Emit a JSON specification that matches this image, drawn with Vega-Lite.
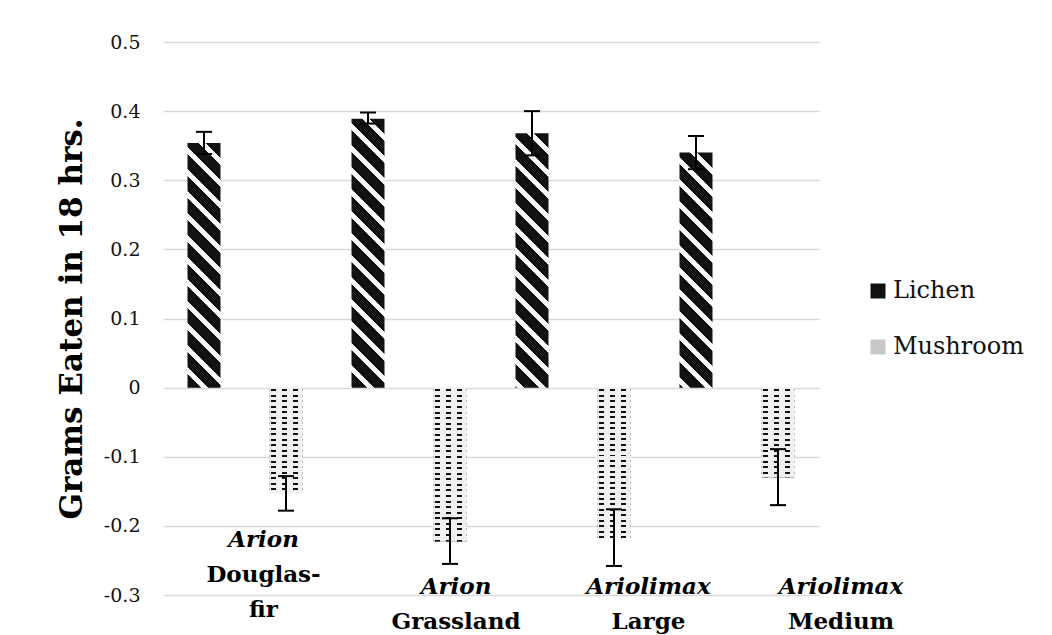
{
  "$schema": "https://vega.github.io/schema/vega-lite/v6.json",
  "autosize": {"type": "none"},
  "padding": {"left": 163, "top": 42, "right": 233, "bottom": 40},
  "width": 656,
  "height": 553,
  "background": "#ffffff",
  "config": {"view": {"stroke": null}, "font": "DejaVu Serif"},
  "data": {"values": [
    {"site": "Arion Douglas-fir", "food": "Lichen", "value": 0.354, "lo": 0.338, "hi": 0.370},
    {"site": "Arion Douglas-fir", "food": "Mushroom", "value": -0.153, "lo": -0.178, "hi": -0.128},
    {"site": "Arion Grassland", "food": "Lichen", "value": 0.389, "lo": 0.382, "hi": 0.398},
    {"site": "Arion Grassland", "food": "Mushroom", "value": -0.223, "lo": -0.255, "hi": -0.189},
    {"site": "Ariolimax Large", "food": "Lichen", "value": 0.368, "lo": 0.336, "hi": 0.400},
    {"site": "Ariolimax Large", "food": "Mushroom", "value": -0.218, "lo": -0.258, "hi": -0.176},
    {"site": "Ariolimax Medium", "food": "Lichen", "value": 0.340, "lo": 0.316, "hi": 0.364},
    {"site": "Ariolimax Medium", "food": "Mushroom", "value": -0.130, "lo": -0.170, "hi": -0.089}
  ]},
  "resolve": {"scale": {"x": "independent"}, "axis": {"x": "independent"}},
  "layer": [
    {
      "encoding": {
        "x": {"field": "site", "type": "nominal", "scale": {"domain": ["Arion Douglas-fir", "Arion Grassland", "Ariolimax Large", "Ariolimax Medium"], "paddingInner": 0, "paddingOuter": 0}, "axis": null},
        "xOffset": {"field": "food", "type": "nominal", "scale": {"domain": ["Lichen", "Mushroom"], "paddingInner": 0.5976, "paddingOuter": 0.2988}}
      },
      "layer": [
        {
          "mark": {"type": "bar"},
          "encoding": {
            "y": {"field": "value", "type": "quantitative", "title": "Grams Eaten in 18 hrs.",
              "scale": {"domain": [-0.3, 0.5], "nice": false, "zero": false},
              "axis": {"values": [-0.3, -0.2, -0.1, 0, 0.1, 0.2, 0.3, 0.4, 0.5], "labelExpr": "replace(format(datum.value, '.1~f'), '\u2212', '-')", "grid": true, "gridColor": "#d9d9d9", "gridWidth": 1.3, "domain": false, "ticks": false, "tickSize": 0, "labelPadding": 23, "labelFont": "DejaVu Serif", "labelFontSize": 19, "labelColor": "#111", "titleFont": "DejaVu Serif", "titleFontSize": 31, "titleFontWeight": "bold", "titleColor": "#000", "titlePadding": 15}},
            "fill": {
              "field": "food", "type": "nominal",
              "scale": {"domain": ["Lichen", "Mushroom"], "range": ["#111111", "#c8c8c8"]},
              "legend": {"title": null, "orient": "none", "legendX": 703, "legendY": 237, "padding": 0, "symbolType": "square", "symbolSize": 225, "symbolStrokeWidth": 0, "labelFont": "DejaVu Serif", "labelFontSize": 24, "labelColor": "#111", "labelOffset": 3, "rowPadding": 32},
              "condition": [
                {"test": "datum.food === 'Lichen' && datum.site === 'Arion Douglas-fir'", "value": {"gradient": "linear", "x1": 1, "y1": 0, "x2": 0.8333, "y2": 1.2362, "stops": [{"offset":0,"color":"#111"},{"offset":0.0486,"color":"#111"},{"offset":0.0486,"color":"#f7f7f7"},{"offset":0.0714,"color":"#f7f7f7"},{"offset":0.0714,"color":"#111"},{"offset":0.12,"color":"#111"},{"offset":0.12,"color":"#f7f7f7"},{"offset":0.1429,"color":"#f7f7f7"},{"offset":0.1429,"color":"#111"},{"offset":0.1914,"color":"#111"},{"offset":0.1914,"color":"#f7f7f7"},{"offset":0.2143,"color":"#f7f7f7"},{"offset":0.2143,"color":"#111"},{"offset":0.2629,"color":"#111"},{"offset":0.2629,"color":"#f7f7f7"},{"offset":0.2857,"color":"#f7f7f7"},{"offset":0.2857,"color":"#111"},{"offset":0.3343,"color":"#111"},{"offset":0.3343,"color":"#f7f7f7"},{"offset":0.3571,"color":"#f7f7f7"},{"offset":0.3571,"color":"#111"},{"offset":0.4057,"color":"#111"},{"offset":0.4057,"color":"#f7f7f7"},{"offset":0.4286,"color":"#f7f7f7"},{"offset":0.4286,"color":"#111"},{"offset":0.4771,"color":"#111"},{"offset":0.4771,"color":"#f7f7f7"},{"offset":0.5,"color":"#f7f7f7"},{"offset":0.5,"color":"#111"},{"offset":0.5486,"color":"#111"},{"offset":0.5486,"color":"#f7f7f7"},{"offset":0.5714,"color":"#f7f7f7"},{"offset":0.5714,"color":"#111"},{"offset":0.62,"color":"#111"},{"offset":0.62,"color":"#f7f7f7"},{"offset":0.6429,"color":"#f7f7f7"},{"offset":0.6429,"color":"#111"},{"offset":0.6914,"color":"#111"},{"offset":0.6914,"color":"#f7f7f7"},{"offset":0.7143,"color":"#f7f7f7"},{"offset":0.7143,"color":"#111"},{"offset":0.7629,"color":"#111"},{"offset":0.7629,"color":"#f7f7f7"},{"offset":0.7857,"color":"#f7f7f7"},{"offset":0.7857,"color":"#111"},{"offset":0.8343,"color":"#111"},{"offset":0.8343,"color":"#f7f7f7"},{"offset":0.8571,"color":"#f7f7f7"},{"offset":0.8571,"color":"#111"},{"offset":0.9057,"color":"#111"},{"offset":0.9057,"color":"#f7f7f7"},{"offset":0.9286,"color":"#f7f7f7"},{"offset":0.9286,"color":"#111"},{"offset":0.9771,"color":"#111"},{"offset":0.9771,"color":"#f7f7f7"},{"offset":1,"color":"#f7f7f7"}]}},
                {"test": "datum.food === 'Lichen' && datum.site === 'Arion Grassland'", "value": {"gradient": "linear", "x1": 1, "y1": 0, "x2": 0.8615, "y2": 1.1284, "stops": [{"offset":0,"color":"#111"},{"offset":0.0486,"color":"#111"},{"offset":0.0486,"color":"#f7f7f7"},{"offset":0.0714,"color":"#f7f7f7"},{"offset":0.0714,"color":"#111"},{"offset":0.12,"color":"#111"},{"offset":0.12,"color":"#f7f7f7"},{"offset":0.1429,"color":"#f7f7f7"},{"offset":0.1429,"color":"#111"},{"offset":0.1914,"color":"#111"},{"offset":0.1914,"color":"#f7f7f7"},{"offset":0.2143,"color":"#f7f7f7"},{"offset":0.2143,"color":"#111"},{"offset":0.2629,"color":"#111"},{"offset":0.2629,"color":"#f7f7f7"},{"offset":0.2857,"color":"#f7f7f7"},{"offset":0.2857,"color":"#111"},{"offset":0.3343,"color":"#111"},{"offset":0.3343,"color":"#f7f7f7"},{"offset":0.3571,"color":"#f7f7f7"},{"offset":0.3571,"color":"#111"},{"offset":0.4057,"color":"#111"},{"offset":0.4057,"color":"#f7f7f7"},{"offset":0.4286,"color":"#f7f7f7"},{"offset":0.4286,"color":"#111"},{"offset":0.4771,"color":"#111"},{"offset":0.4771,"color":"#f7f7f7"},{"offset":0.5,"color":"#f7f7f7"},{"offset":0.5,"color":"#111"},{"offset":0.5486,"color":"#111"},{"offset":0.5486,"color":"#f7f7f7"},{"offset":0.5714,"color":"#f7f7f7"},{"offset":0.5714,"color":"#111"},{"offset":0.62,"color":"#111"},{"offset":0.62,"color":"#f7f7f7"},{"offset":0.6429,"color":"#f7f7f7"},{"offset":0.6429,"color":"#111"},{"offset":0.6914,"color":"#111"},{"offset":0.6914,"color":"#f7f7f7"},{"offset":0.7143,"color":"#f7f7f7"},{"offset":0.7143,"color":"#111"},{"offset":0.7629,"color":"#111"},{"offset":0.7629,"color":"#f7f7f7"},{"offset":0.7857,"color":"#f7f7f7"},{"offset":0.7857,"color":"#111"},{"offset":0.8343,"color":"#111"},{"offset":0.8343,"color":"#f7f7f7"},{"offset":0.8571,"color":"#f7f7f7"},{"offset":0.8571,"color":"#111"},{"offset":0.9057,"color":"#111"},{"offset":0.9057,"color":"#f7f7f7"},{"offset":0.9286,"color":"#f7f7f7"},{"offset":0.9286,"color":"#111"},{"offset":0.9771,"color":"#111"},{"offset":0.9771,"color":"#f7f7f7"},{"offset":1,"color":"#f7f7f7"}]}},
                {"test": "datum.food === 'Lichen' && datum.site === 'Ariolimax Large'", "value": {"gradient": "linear", "x1": 1, "y1": 0, "x2": 0.8455, "y2": 1.1907, "stops": [{"offset":0,"color":"#111"},{"offset":0.0486,"color":"#111"},{"offset":0.0486,"color":"#f7f7f7"},{"offset":0.0714,"color":"#f7f7f7"},{"offset":0.0714,"color":"#111"},{"offset":0.12,"color":"#111"},{"offset":0.12,"color":"#f7f7f7"},{"offset":0.1429,"color":"#f7f7f7"},{"offset":0.1429,"color":"#111"},{"offset":0.1914,"color":"#111"},{"offset":0.1914,"color":"#f7f7f7"},{"offset":0.2143,"color":"#f7f7f7"},{"offset":0.2143,"color":"#111"},{"offset":0.2629,"color":"#111"},{"offset":0.2629,"color":"#f7f7f7"},{"offset":0.2857,"color":"#f7f7f7"},{"offset":0.2857,"color":"#111"},{"offset":0.3343,"color":"#111"},{"offset":0.3343,"color":"#f7f7f7"},{"offset":0.3571,"color":"#f7f7f7"},{"offset":0.3571,"color":"#111"},{"offset":0.4057,"color":"#111"},{"offset":0.4057,"color":"#f7f7f7"},{"offset":0.4286,"color":"#f7f7f7"},{"offset":0.4286,"color":"#111"},{"offset":0.4771,"color":"#111"},{"offset":0.4771,"color":"#f7f7f7"},{"offset":0.5,"color":"#f7f7f7"},{"offset":0.5,"color":"#111"},{"offset":0.5486,"color":"#111"},{"offset":0.5486,"color":"#f7f7f7"},{"offset":0.5714,"color":"#f7f7f7"},{"offset":0.5714,"color":"#111"},{"offset":0.62,"color":"#111"},{"offset":0.62,"color":"#f7f7f7"},{"offset":0.6429,"color":"#f7f7f7"},{"offset":0.6429,"color":"#111"},{"offset":0.6914,"color":"#111"},{"offset":0.6914,"color":"#f7f7f7"},{"offset":0.7143,"color":"#f7f7f7"},{"offset":0.7143,"color":"#111"},{"offset":0.7629,"color":"#111"},{"offset":0.7629,"color":"#f7f7f7"},{"offset":0.7857,"color":"#f7f7f7"},{"offset":0.7857,"color":"#111"},{"offset":0.8343,"color":"#111"},{"offset":0.8343,"color":"#f7f7f7"},{"offset":0.8571,"color":"#f7f7f7"},{"offset":0.8571,"color":"#111"},{"offset":0.9057,"color":"#111"},{"offset":0.9057,"color":"#f7f7f7"},{"offset":0.9286,"color":"#f7f7f7"},{"offset":0.9286,"color":"#111"},{"offset":0.9771,"color":"#111"},{"offset":0.9771,"color":"#f7f7f7"},{"offset":1,"color":"#f7f7f7"}]}},
                {"test": "datum.food === 'Lichen' && datum.site === 'Ariolimax Medium'", "value": {"gradient": "linear", "x1": 1, "y1": 0, "x2": 0.8195, "y2": 1.2853, "stops": [{"offset":0,"color":"#111"},{"offset":0.0486,"color":"#111"},{"offset":0.0486,"color":"#f7f7f7"},{"offset":0.0714,"color":"#f7f7f7"},{"offset":0.0714,"color":"#111"},{"offset":0.12,"color":"#111"},{"offset":0.12,"color":"#f7f7f7"},{"offset":0.1429,"color":"#f7f7f7"},{"offset":0.1429,"color":"#111"},{"offset":0.1914,"color":"#111"},{"offset":0.1914,"color":"#f7f7f7"},{"offset":0.2143,"color":"#f7f7f7"},{"offset":0.2143,"color":"#111"},{"offset":0.2629,"color":"#111"},{"offset":0.2629,"color":"#f7f7f7"},{"offset":0.2857,"color":"#f7f7f7"},{"offset":0.2857,"color":"#111"},{"offset":0.3343,"color":"#111"},{"offset":0.3343,"color":"#f7f7f7"},{"offset":0.3571,"color":"#f7f7f7"},{"offset":0.3571,"color":"#111"},{"offset":0.4057,"color":"#111"},{"offset":0.4057,"color":"#f7f7f7"},{"offset":0.4286,"color":"#f7f7f7"},{"offset":0.4286,"color":"#111"},{"offset":0.4771,"color":"#111"},{"offset":0.4771,"color":"#f7f7f7"},{"offset":0.5,"color":"#f7f7f7"},{"offset":0.5,"color":"#111"},{"offset":0.5486,"color":"#111"},{"offset":0.5486,"color":"#f7f7f7"},{"offset":0.5714,"color":"#f7f7f7"},{"offset":0.5714,"color":"#111"},{"offset":0.62,"color":"#111"},{"offset":0.62,"color":"#f7f7f7"},{"offset":0.6429,"color":"#f7f7f7"},{"offset":0.6429,"color":"#111"},{"offset":0.6914,"color":"#111"},{"offset":0.6914,"color":"#f7f7f7"},{"offset":0.7143,"color":"#f7f7f7"},{"offset":0.7143,"color":"#111"},{"offset":0.7629,"color":"#111"},{"offset":0.7629,"color":"#f7f7f7"},{"offset":0.7857,"color":"#f7f7f7"},{"offset":0.7857,"color":"#111"},{"offset":0.8343,"color":"#111"},{"offset":0.8343,"color":"#f7f7f7"},{"offset":0.8571,"color":"#f7f7f7"},{"offset":0.8571,"color":"#111"},{"offset":0.9057,"color":"#111"},{"offset":0.9057,"color":"#f7f7f7"},{"offset":0.9286,"color":"#f7f7f7"},{"offset":0.9286,"color":"#111"},{"offset":0.9771,"color":"#111"},{"offset":0.9771,"color":"#f7f7f7"},{"offset":1,"color":"#f7f7f7"}]}},
                {"test": "datum.food === 'Mushroom' && datum.site === 'Arion Douglas-fir'", "value": {"gradient": "linear", "x1": 0, "y1": 0, "x2": 0, "y2": 1.5076, "stops": [{"offset":0,"color":"#f0f0f0"},{"offset":0.0103,"color":"#f0f0f0"},{"offset":0.0103,"color":"#111"},{"offset":0.0228,"color":"#111"},{"offset":0.0228,"color":"#f0f0f0"},{"offset":0.0448,"color":"#f0f0f0"},{"offset":0.0448,"color":"#111"},{"offset":0.0572,"color":"#111"},{"offset":0.0572,"color":"#f0f0f0"},{"offset":0.0793,"color":"#f0f0f0"},{"offset":0.0793,"color":"#111"},{"offset":0.0917,"color":"#111"},{"offset":0.0917,"color":"#f0f0f0"},{"offset":0.1138,"color":"#f0f0f0"},{"offset":0.1138,"color":"#111"},{"offset":0.1262,"color":"#111"},{"offset":0.1262,"color":"#f0f0f0"},{"offset":0.1483,"color":"#f0f0f0"},{"offset":0.1483,"color":"#111"},{"offset":0.1607,"color":"#111"},{"offset":0.1607,"color":"#f0f0f0"},{"offset":0.1828,"color":"#f0f0f0"},{"offset":0.1828,"color":"#111"},{"offset":0.1952,"color":"#111"},{"offset":0.1952,"color":"#f0f0f0"},{"offset":0.2172,"color":"#f0f0f0"},{"offset":0.2172,"color":"#111"},{"offset":0.2297,"color":"#111"},{"offset":0.2297,"color":"#f0f0f0"},{"offset":0.2517,"color":"#f0f0f0"},{"offset":0.2517,"color":"#111"},{"offset":0.2641,"color":"#111"},{"offset":0.2641,"color":"#f0f0f0"},{"offset":0.2862,"color":"#f0f0f0"},{"offset":0.2862,"color":"#111"},{"offset":0.2986,"color":"#111"},{"offset":0.2986,"color":"#f0f0f0"},{"offset":0.3207,"color":"#f0f0f0"},{"offset":0.3207,"color":"#111"},{"offset":0.3331,"color":"#111"},{"offset":0.3331,"color":"#f0f0f0"},{"offset":0.3552,"color":"#f0f0f0"},{"offset":0.3552,"color":"#111"},{"offset":0.3676,"color":"#111"},{"offset":0.3676,"color":"#f0f0f0"},{"offset":0.3897,"color":"#f0f0f0"},{"offset":0.3897,"color":"#111"},{"offset":0.4021,"color":"#111"},{"offset":0.4021,"color":"#f0f0f0"},{"offset":0.4241,"color":"#f0f0f0"},{"offset":0.4241,"color":"#111"},{"offset":0.4366,"color":"#111"},{"offset":0.4366,"color":"#f0f0f0"},{"offset":0.4586,"color":"#f0f0f0"},{"offset":0.4586,"color":"#111"},{"offset":0.471,"color":"#111"},{"offset":0.471,"color":"#f0f0f0"},{"offset":0.4931,"color":"#f0f0f0"},{"offset":0.4931,"color":"#111"},{"offset":0.5055,"color":"#111"},{"offset":0.5055,"color":"#f0f0f0"},{"offset":0.5276,"color":"#f0f0f0"},{"offset":0.5276,"color":"#111"},{"offset":0.54,"color":"#111"},{"offset":0.54,"color":"#f0f0f0"},{"offset":0.5621,"color":"#f0f0f0"},{"offset":0.5621,"color":"#111"},{"offset":0.5745,"color":"#111"},{"offset":0.5745,"color":"#f0f0f0"},{"offset":0.5966,"color":"#f0f0f0"},{"offset":0.5966,"color":"#111"},{"offset":0.609,"color":"#111"},{"offset":0.609,"color":"#f0f0f0"},{"offset":0.631,"color":"#f0f0f0"},{"offset":0.631,"color":"#111"},{"offset":0.6434,"color":"#111"},{"offset":0.6434,"color":"#f0f0f0"},{"offset":1,"color":"#f0f0f0"}]}},
                {"test": "datum.food === 'Mushroom' && (datum.site === 'Arion Grassland' || datum.site === 'Ariolimax Large')", "value": {"gradient": "linear", "x1": 0, "y1": 0, "x2": 0, "y2": 1.0466, "stops": [{"offset":0,"color":"#f0f0f0"},{"offset":0.0103,"color":"#f0f0f0"},{"offset":0.0103,"color":"#111"},{"offset":0.0228,"color":"#111"},{"offset":0.0228,"color":"#f0f0f0"},{"offset":0.0448,"color":"#f0f0f0"},{"offset":0.0448,"color":"#111"},{"offset":0.0572,"color":"#111"},{"offset":0.0572,"color":"#f0f0f0"},{"offset":0.0793,"color":"#f0f0f0"},{"offset":0.0793,"color":"#111"},{"offset":0.0917,"color":"#111"},{"offset":0.0917,"color":"#f0f0f0"},{"offset":0.1138,"color":"#f0f0f0"},{"offset":0.1138,"color":"#111"},{"offset":0.1262,"color":"#111"},{"offset":0.1262,"color":"#f0f0f0"},{"offset":0.1483,"color":"#f0f0f0"},{"offset":0.1483,"color":"#111"},{"offset":0.1607,"color":"#111"},{"offset":0.1607,"color":"#f0f0f0"},{"offset":0.1828,"color":"#f0f0f0"},{"offset":0.1828,"color":"#111"},{"offset":0.1952,"color":"#111"},{"offset":0.1952,"color":"#f0f0f0"},{"offset":0.2172,"color":"#f0f0f0"},{"offset":0.2172,"color":"#111"},{"offset":0.2297,"color":"#111"},{"offset":0.2297,"color":"#f0f0f0"},{"offset":0.2517,"color":"#f0f0f0"},{"offset":0.2517,"color":"#111"},{"offset":0.2641,"color":"#111"},{"offset":0.2641,"color":"#f0f0f0"},{"offset":0.2862,"color":"#f0f0f0"},{"offset":0.2862,"color":"#111"},{"offset":0.2986,"color":"#111"},{"offset":0.2986,"color":"#f0f0f0"},{"offset":0.3207,"color":"#f0f0f0"},{"offset":0.3207,"color":"#111"},{"offset":0.3331,"color":"#111"},{"offset":0.3331,"color":"#f0f0f0"},{"offset":0.3552,"color":"#f0f0f0"},{"offset":0.3552,"color":"#111"},{"offset":0.3676,"color":"#111"},{"offset":0.3676,"color":"#f0f0f0"},{"offset":0.3897,"color":"#f0f0f0"},{"offset":0.3897,"color":"#111"},{"offset":0.4021,"color":"#111"},{"offset":0.4021,"color":"#f0f0f0"},{"offset":0.4241,"color":"#f0f0f0"},{"offset":0.4241,"color":"#111"},{"offset":0.4366,"color":"#111"},{"offset":0.4366,"color":"#f0f0f0"},{"offset":0.4586,"color":"#f0f0f0"},{"offset":0.4586,"color":"#111"},{"offset":0.471,"color":"#111"},{"offset":0.471,"color":"#f0f0f0"},{"offset":0.4931,"color":"#f0f0f0"},{"offset":0.4931,"color":"#111"},{"offset":0.5055,"color":"#111"},{"offset":0.5055,"color":"#f0f0f0"},{"offset":0.5276,"color":"#f0f0f0"},{"offset":0.5276,"color":"#111"},{"offset":0.54,"color":"#111"},{"offset":0.54,"color":"#f0f0f0"},{"offset":0.5621,"color":"#f0f0f0"},{"offset":0.5621,"color":"#111"},{"offset":0.5745,"color":"#111"},{"offset":0.5745,"color":"#f0f0f0"},{"offset":0.5966,"color":"#f0f0f0"},{"offset":0.5966,"color":"#111"},{"offset":0.609,"color":"#111"},{"offset":0.609,"color":"#f0f0f0"},{"offset":0.631,"color":"#f0f0f0"},{"offset":0.631,"color":"#111"},{"offset":0.6434,"color":"#111"},{"offset":0.6434,"color":"#f0f0f0"},{"offset":0.6655,"color":"#f0f0f0"},{"offset":0.6655,"color":"#111"},{"offset":0.6779,"color":"#111"},{"offset":0.6779,"color":"#f0f0f0"},{"offset":0.7,"color":"#f0f0f0"},{"offset":0.7,"color":"#111"},{"offset":0.7124,"color":"#111"},{"offset":0.7124,"color":"#f0f0f0"},{"offset":0.7345,"color":"#f0f0f0"},{"offset":0.7345,"color":"#111"},{"offset":0.7469,"color":"#111"},{"offset":0.7469,"color":"#f0f0f0"},{"offset":0.769,"color":"#f0f0f0"},{"offset":0.769,"color":"#111"},{"offset":0.7814,"color":"#111"},{"offset":0.7814,"color":"#f0f0f0"},{"offset":0.8034,"color":"#f0f0f0"},{"offset":0.8034,"color":"#111"},{"offset":0.8159,"color":"#111"},{"offset":0.8159,"color":"#f0f0f0"},{"offset":0.8379,"color":"#f0f0f0"},{"offset":0.8379,"color":"#111"},{"offset":0.8503,"color":"#111"},{"offset":0.8503,"color":"#f0f0f0"},{"offset":0.8724,"color":"#f0f0f0"},{"offset":0.8724,"color":"#111"},{"offset":0.8848,"color":"#111"},{"offset":0.8848,"color":"#f0f0f0"},{"offset":0.9069,"color":"#f0f0f0"},{"offset":0.9069,"color":"#111"},{"offset":0.9193,"color":"#111"},{"offset":0.9193,"color":"#f0f0f0"},{"offset":0.9414,"color":"#f0f0f0"},{"offset":0.9414,"color":"#111"},{"offset":0.9538,"color":"#111"},{"offset":0.9538,"color":"#f0f0f0"},{"offset":0.9759,"color":"#f0f0f0"},{"offset":0.9759,"color":"#111"},{"offset":0.9883,"color":"#111"},{"offset":0.9883,"color":"#f0f0f0"},{"offset":1,"color":"#f0f0f0"}]}},
                {"test": "datum.food === 'Mushroom' && datum.site === 'Ariolimax Medium'", "value": {"gradient": "linear", "x1": 0, "y1": 0, "x2": 0, "y2": 1.7742, "stops": [{"offset":0,"color":"#f0f0f0"},{"offset":0.0103,"color":"#f0f0f0"},{"offset":0.0103,"color":"#111"},{"offset":0.0228,"color":"#111"},{"offset":0.0228,"color":"#f0f0f0"},{"offset":0.0448,"color":"#f0f0f0"},{"offset":0.0448,"color":"#111"},{"offset":0.0572,"color":"#111"},{"offset":0.0572,"color":"#f0f0f0"},{"offset":0.0793,"color":"#f0f0f0"},{"offset":0.0793,"color":"#111"},{"offset":0.0917,"color":"#111"},{"offset":0.0917,"color":"#f0f0f0"},{"offset":0.1138,"color":"#f0f0f0"},{"offset":0.1138,"color":"#111"},{"offset":0.1262,"color":"#111"},{"offset":0.1262,"color":"#f0f0f0"},{"offset":0.1483,"color":"#f0f0f0"},{"offset":0.1483,"color":"#111"},{"offset":0.1607,"color":"#111"},{"offset":0.1607,"color":"#f0f0f0"},{"offset":0.1828,"color":"#f0f0f0"},{"offset":0.1828,"color":"#111"},{"offset":0.1952,"color":"#111"},{"offset":0.1952,"color":"#f0f0f0"},{"offset":0.2172,"color":"#f0f0f0"},{"offset":0.2172,"color":"#111"},{"offset":0.2297,"color":"#111"},{"offset":0.2297,"color":"#f0f0f0"},{"offset":0.2517,"color":"#f0f0f0"},{"offset":0.2517,"color":"#111"},{"offset":0.2641,"color":"#111"},{"offset":0.2641,"color":"#f0f0f0"},{"offset":0.2862,"color":"#f0f0f0"},{"offset":0.2862,"color":"#111"},{"offset":0.2986,"color":"#111"},{"offset":0.2986,"color":"#f0f0f0"},{"offset":0.3207,"color":"#f0f0f0"},{"offset":0.3207,"color":"#111"},{"offset":0.3331,"color":"#111"},{"offset":0.3331,"color":"#f0f0f0"},{"offset":0.3552,"color":"#f0f0f0"},{"offset":0.3552,"color":"#111"},{"offset":0.3676,"color":"#111"},{"offset":0.3676,"color":"#f0f0f0"},{"offset":0.3897,"color":"#f0f0f0"},{"offset":0.3897,"color":"#111"},{"offset":0.4021,"color":"#111"},{"offset":0.4021,"color":"#f0f0f0"},{"offset":0.4241,"color":"#f0f0f0"},{"offset":0.4241,"color":"#111"},{"offset":0.4366,"color":"#111"},{"offset":0.4366,"color":"#f0f0f0"},{"offset":0.4586,"color":"#f0f0f0"},{"offset":0.4586,"color":"#111"},{"offset":0.471,"color":"#111"},{"offset":0.471,"color":"#f0f0f0"},{"offset":0.4931,"color":"#f0f0f0"},{"offset":0.4931,"color":"#111"},{"offset":0.5055,"color":"#111"},{"offset":0.5055,"color":"#f0f0f0"},{"offset":0.5276,"color":"#f0f0f0"},{"offset":0.5276,"color":"#111"},{"offset":0.54,"color":"#111"},{"offset":0.54,"color":"#f0f0f0"},{"offset":0.5621,"color":"#f0f0f0"},{"offset":0.5621,"color":"#111"},{"offset":0.5745,"color":"#111"},{"offset":0.5745,"color":"#f0f0f0"},{"offset":1,"color":"#f0f0f0"}]}}
              ]
            }
          }
        },
        {
          "transform": [{"filter": "datum.food === 'Mushroom'"}],
          "mark": {"type": "bar", "fill": {"gradient": "linear", "x1": 0, "y1": 0, "x2": 1, "y2": 0, "stops": [{"offset": 0, "color": "#f0f0f0"}, {"offset": 0.045, "color": "#f0f0f0"}, {"offset": 0.045, "color": "rgba(240,240,240,0)"}, {"offset": 0.197, "color": "rgba(240,240,240,0)"}, {"offset": 0.197, "color": "#f0f0f0"}, {"offset": 0.379, "color": "#f0f0f0"}, {"offset": 0.379, "color": "rgba(240,240,240,0)"}, {"offset": 0.53, "color": "rgba(240,240,240,0)"}, {"offset": 0.53, "color": "#f0f0f0"}, {"offset": 0.712, "color": "#f0f0f0"}, {"offset": 0.712, "color": "rgba(240,240,240,0)"}, {"offset": 0.864, "color": "rgba(240,240,240,0)"}, {"offset": 0.864, "color": "#f0f0f0"}, {"offset": 1, "color": "#f0f0f0"}]}},
          "encoding": {
            "y": {"field": "value", "type": "quantitative", "title": "Grams Eaten in 18 hrs."}
          }
        },
        {
          "mark": {"type": "rule", "strokeWidth": 2, "color": "#000"},
          "encoding": {
            "y": {"field": "lo", "type": "quantitative", "title": "Grams Eaten in 18 hrs."},
            "y2": {"field": "hi"}
          }
        },
        {
          "mark": {"type": "tick", "orient": "horizontal", "size": 16, "thickness": 2, "color": "#000", "opacity": 1},
          "encoding": {
            "y": {"field": "lo", "type": "quantitative", "title": "Grams Eaten in 18 hrs."}
          }
        },
        {
          "mark": {"type": "tick", "orient": "horizontal", "size": 16, "thickness": 2, "color": "#000", "opacity": 1},
          "encoding": {
            "y": {"field": "hi", "type": "quantitative", "title": "Grams Eaten in 18 hrs."}
          }
        }
      ]
    },
    {
      "mark": {"type": "point", "opacity": 0},
      "encoding": {
        "x": {"field": "site", "type": "nominal",
          "scale": {"type": "band", "domain": ["Arion Douglas-fir", "Arion Grassland", "Ariolimax Large", "Ariolimax Medium"], "range": [4.25, 774.25], "paddingInner": 0, "paddingOuter": 0},
          "axis": {"orient": "bottom", "title": null, "domain": false, "ticks": false, "tickSize": 0, "grid": false, "labelAngle": 0, "labelAlign": "center", "labelBaseline": "alphabetic",
            "labelPadding": {"condition": {"test": "datum.value === 'Arion Douglas-fir'", "value": -49}, "value": -2},
            "labelFont": "DejaVu Serif", "labelFontSize": 23, "labelFontWeight": "bold", "labelFontStyle": "italic", "labelColor": "#000", "labelOverlap": false, "labelBound": false, "labelFlush": false, "labelLimit": 0,
            "labelExpr": "split(datum.value, ' ')[0]"}}
      }
    },
    {
      "mark": {"type": "point", "opacity": 0},
      "encoding": {
        "x": {"field": "site", "type": "nominal",
          "scale": {"type": "band", "domain": ["Arion Douglas-fir", "Arion Grassland", "Ariolimax Large", "Ariolimax Medium"], "range": [4.25, 774.25], "paddingInner": 0, "paddingOuter": 0},
          "axis": {"orient": "bottom", "title": null, "domain": false, "ticks": false, "tickSize": 0, "grid": false, "labelAngle": 0, "labelAlign": "center", "labelBaseline": "alphabetic",
            "labelPadding": {"condition": {"test": "datum.value === 'Arion Douglas-fir'", "value": -14}, "value": 33},
            "labelFont": "DejaVu Serif", "labelFontSize": 23, "labelFontWeight": "bold", "labelColor": "#000", "labelLineHeight": 35, "labelOverlap": false, "labelBound": false, "labelFlush": false, "labelLimit": 0,
            "labelExpr": "datum.value == 'Arion Douglas-fir' ? ['Douglas-', 'fir'] : split(datum.value, ' ')[1]"}}
      }
    }
  ]
}
